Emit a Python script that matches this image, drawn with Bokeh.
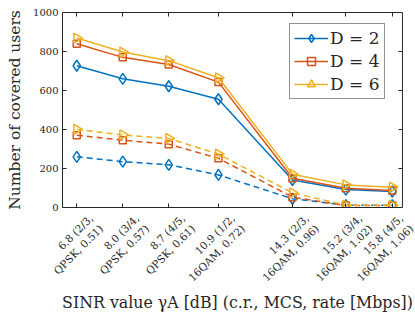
import math
from bokeh.plotting import figure
from bokeh.models import FixedTicker, LinearAxis, Legend, LegendItem, Range1d, Span
from bokeh.embed import file_html
from bokeh.resources import INLINE

# ---- data ----
tick_labels = ["6.8 (2/3,\nQPSK, 0.51)", "8.0 (3/4,\nQPSK, 0.57)", "8.7 (4/5,\nQPSK, 0.61)",
               "10.9 (1/2,\n16QAM, 0.72)", "14.3 (2/3,\n16QAM, 0.96)", "15.2 (3/4,\n16QAM, 1.02)",
               "15.8 (4/5,\n16QAM, 1.06)"]
x_pos = [1.0, 2.0, 3.0, 4.08, 5.69, 6.85, 7.86]
d2_solid = [727, 660, 622, 555, 141, 92, 82]
d4_solid = [840, 770, 733, 643, 150, 99, 87]
d6_solid = [869, 797, 753, 665, 171, 116, 104]
d2_dash = [260, 235, 219, 167, 45, 12, 12]
d4_dash = [371, 345, 325, 252, 53, 10, 10]
d6_dash = [401, 372, 354, 274, 75, 12, 12]
y_ticks = [0, 200, 400, 600, 800, 1000]
legend_names = ["D = 2", "D = 4", "D = 6"]

FONT = "DejaVu Serif"
AX = "#262626"
colors = ["#0072BD", "#D95319", "#EDB120"]
X0, X1 = 0.69, 8.08          # visible box
PX_PER_UNIT = 46.0
FRAME_W = 350                 # frame slightly wider than the box, room for last label
X1_EXT = X0 + FRAME_W / PX_PER_UNIT
LAB_SHIFT = 0.42              # label anchor offset (style), in axis units
TICK_LEN = 4 / PX_PER_UNIT

p = figure(x_range=Range1d(X0, X1_EXT), y_range=Range1d(0, 1000),
           frame_width=FRAME_W, frame_height=195, x_axis_location=None,
           min_border_left=62, min_border_top=12, min_border_right=3, min_border_bottom=100,
           output_backend="svg", toolbar_location=None)
p.xgrid.visible = False
p.ygrid.visible = False
p.outline_line_color = None
p.background_fill_color = "white"
p.border_fill_color = "white"

xt = FixedTicker(ticks=x_pos)
yt = FixedTicker(ticks=y_ticks)

# y axis
ya = p.yaxis[0]
ya.ticker = yt
ya.axis_line_color = AX
ya.major_tick_line_color = AX
ya.major_tick_in = 4
ya.major_tick_out = 0
ya.minor_tick_in = 0
ya.minor_tick_out = 0
ya.major_label_text_font = FONT
ya.major_label_text_color = AX
ya.major_label_text_font_size = "10px"
ya.major_label_standoff = 4
ya.axis_label = "Number of covered users"
ya.axis_label_text_font = FONT
ya.axis_label_text_font_style = "normal"
ya.axis_label_text_color = AX
ya.axis_label_text_font_size = "15.5px"
ya.axis_label_standoff = 6

# bottom: tick marks only
tick_axis = LinearAxis(ticker=xt, bounds=(X0, X1), major_label_text_color=None,
                       major_label_text_font_size="1px",
                       major_tick_in=4, major_tick_out=0, minor_tick_in=0, minor_tick_out=0,
                       axis_line_color=AX, major_tick_line_color=AX, major_label_standoff=0)
p.add_layout(tick_axis, "below")

# bottom: rotated tick labels, anchored slightly right of each tick
lab_ticks = [x + LAB_SHIFT for x in x_pos]
lab_axis = LinearAxis(ticker=FixedTicker(ticks=lab_ticks),
                      axis_line_color=None, major_tick_line_color=None,
                      major_tick_in=0, major_tick_out=0, minor_tick_in=0, minor_tick_out=0,
                      major_label_text_font=FONT, major_label_text_color=AX,
                      major_label_text_font_size="10.5px", major_label_standoff=14,
                      major_label_orientation=math.pi / 4)
lab_axis.major_label_overrides = {t: s for t, s in zip(lab_ticks, tick_labels)}
p.add_layout(lab_axis, "below")

# bottom: axis title
title_axis = LinearAxis(ticker=FixedTicker(ticks=[]), axis_line_color=None,
                        major_tick_line_color=None, major_tick_in=0, major_tick_out=0,
                        minor_tick_in=0, minor_tick_out=0, major_label_standoff=0,
                        axis_label="SINR value γA [dB] (c.r., MCS, rate [Mbps])",
                        axis_label_text_font=FONT, axis_label_text_font_style="normal",
                        axis_label_text_color=AX, axis_label_text_font_size="15.8px",
                        axis_label_standoff=-3)
p.add_layout(title_axis, "below")

# top border with inward ticks
top_axis = LinearAxis(ticker=xt, bounds=(X0, X1), major_label_text_color=None,
                      major_label_text_font_size="1px",
                      major_tick_in=4, major_tick_out=0, minor_tick_in=0, minor_tick_out=0,
                      axis_line_color=AX, major_tick_line_color=AX, major_label_standoff=0)
p.add_layout(top_axis, "above")

# right border with inward ticks
p.add_layout(Span(location=X1, dimension="height", line_color=AX, line_width=1))
p.segment(x0=[X1] * len(y_ticks), y0=y_ticks, x1=[X1 - TICK_LEN] * len(y_ticks), y1=y_ticks,
          line_color=AX, line_width=1)

items = []
solids = [d2_solid, d4_solid, d6_solid]
dashes = [d2_dash, d4_dash, d6_dash]
markers = ["diamond", "square", "triangle"]
msizes = [11, 7, 10]
angles = [0, 0, -math.pi / 2]
for i in range(3):
    c = colors[i]
    l1 = p.line(x_pos, solids[i], line_color=c, line_width=1.5)
    s1 = p.scatter(x_pos, solids[i], marker=markers[i], size=msizes[i], angle=angles[i],
                   line_color=c, line_width=1.5, fill_alpha=0)
    p.line(x_pos, dashes[i], line_color=c, line_width=1.5, line_dash="6 4")
    p.scatter(x_pos, dashes[i], marker=markers[i], size=msizes[i], angle=angles[i],
              line_color=c, line_width=1.5, fill_alpha=0)
    items.append(LegendItem(label=legend_names[i], renderers=[l1, s1]))

leg = Legend(items=items, location=(227, 108), label_text_font=FONT,
             label_text_font_size="17px", label_text_color=AX,
             glyph_width=34, glyph_height=20, label_height=20, label_standoff=2,
             spacing=3, padding=4, margin=0,
             border_line_color=AX, border_line_width=1, background_fill_alpha=1)
p.add_layout(leg, "center")

open("out.html", "w").write(file_html(p, INLINE))
